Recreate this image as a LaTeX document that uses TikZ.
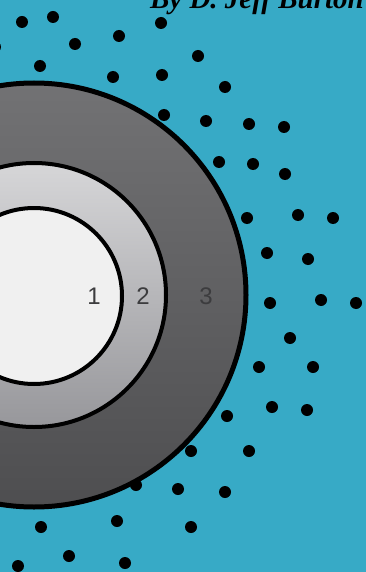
\documentclass[tikz,border=0pt]{standalone}
\usepackage{fontspec}
\setmainfont{Liberation Serif}
\newfontfamily\labelfont{Liberation Sans}
\definecolor{bgblue}{HTML}{37AAC6}
\definecolor{outerTop}{HTML}{727274}
\definecolor{outerBot}{HTML}{4E4E50}
\definecolor{midTop}{HTML}{D6D6D8}
\definecolor{midBot}{HTML}{97979B}
\definecolor{innerFill}{HTML}{F0F0F0}
\definecolor{numgray}{HTML}{3C3C3E}
\begin{document}
\begin{tikzpicture}[x=1pt,y=-1pt,
  dot/.style={fill=black},
  ring/.style={draw=black,line width=4pt},
  numlabel/.style={font=\labelfont\fontsize{24}{24}\selectfont,text=numgray,inner sep=0pt}]
\useasboundingbox (0,0) rectangle (366,572);
\fill[bgblue] (0,0) rectangle (366,572);
\begin{scope}
\clip (0,0) rectangle (366,572);
% dots
\foreach \x/\y in {22/22,53/17,75/44,119/36,161/23,40/66,113/77,162/75,198/56,225/87,
  164/115,206/121,249/124,284/127,-5/47,
  219/162,253/164,285/174,247/218,298/215,333/218,267/253,308/259,270/303,321/300,356/303,
  290/338,259/367,313/367,272/407,307/410,227/416,
  191/451,249/451,136/485,178/489,225/492,41/527,117/521,191/527,69/556,125/563,18/566}
  \fill[dot] (\x,\y) circle (6);
% circles
\shade[top color=outerTop,bottom color=outerBot] (34,295) circle (212);
\draw[ring,line width=5pt] (34,295) circle (212);
\shade[top color=midTop,bottom color=midBot] (34,295) circle (132);
\draw[ring] (34,295) circle (132);
\fill[innerFill] (34,296) circle (88);
\draw[ring] (34,296) circle (88);
\end{scope}
\node[numlabel] (n1) at (94,296) {1};
\node[numlabel] (n2) at (143,296) {2};
\node[numlabel] (n3) at (206,296) {3};
\node[anchor=base east,inner sep=0pt,font=\bfseries\itshape\fontsize{29}{29}\selectfont] (title) at (364,9) {By D. Jeff Burton};
\end{tikzpicture}
\end{document}
